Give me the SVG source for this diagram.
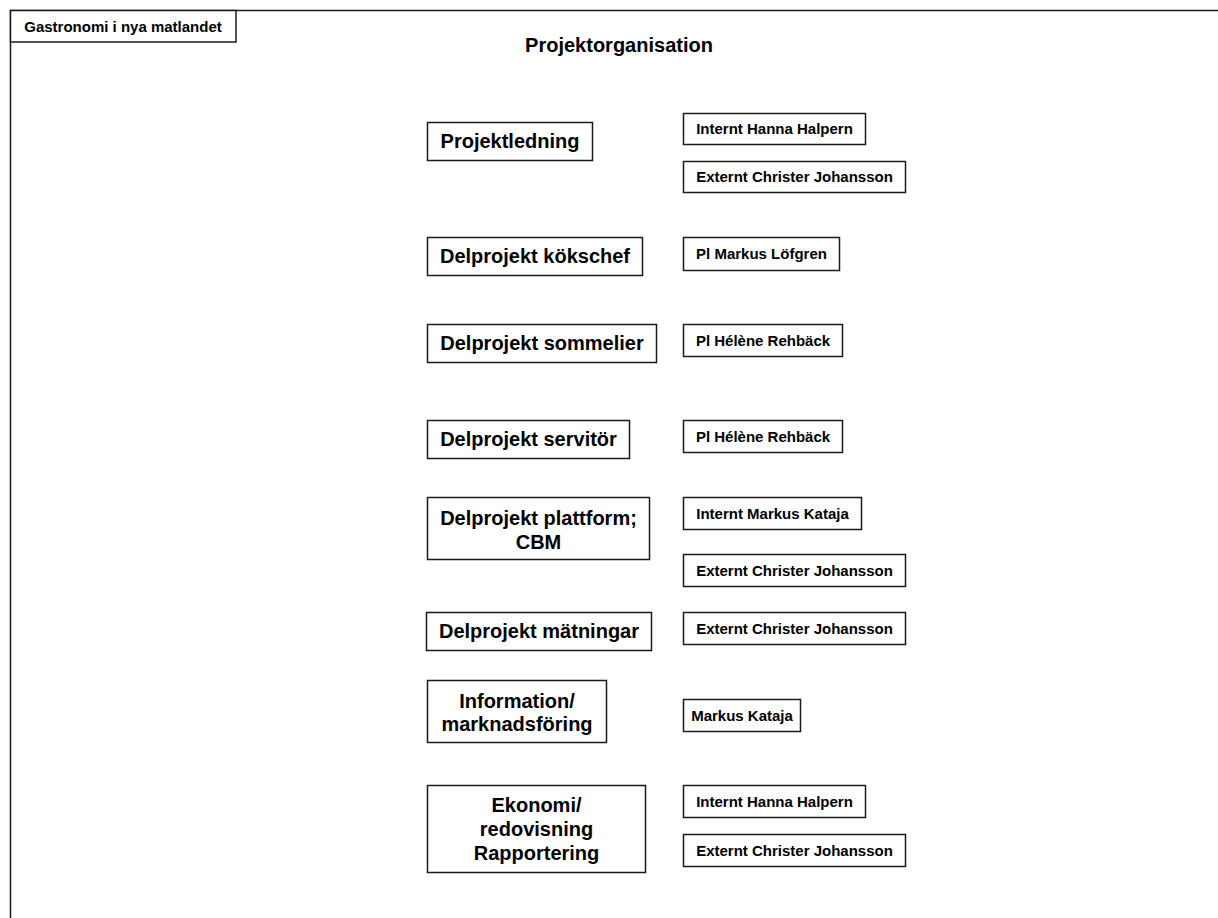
<svg xmlns="http://www.w3.org/2000/svg" width="1218" height="918" viewBox="0 0 1218 918">
<style>
.box{fill:#fff;stroke:#1a1a1a;stroke-width:1.5}
.frame{fill:none;stroke:#1a1a1a;stroke-width:1.5}
text{font-family:"Liberation Sans",Arial,sans-serif;font-weight:bold;fill:#000;text-anchor:middle}
.big{font-size:20px}
.small{font-size:15px}
.hdr{font-size:15px}
</style>
<rect width="1218" height="918" fill="#fff"/>
<g id="frame">
<path class="frame" d="M10.5,918 V10.5 H1218"/>
</g>
<g id="header">
<rect class="box" x="10.5" y="10.5" width="225.5" height="31.5"/>
<text class="hdr" x="123" y="31.5">Gastronomi i nya matlandet</text>
</g>
<g id="title">
<text class="big" x="619" y="52">Projektorganisation</text>
</g>
<g id="connectors"></g>
<g id="projektledning">
<rect class="box" x="427.5" y="122.5" width="165" height="38"/>
<text class="big" x="510" y="148.2">Projektledning</text>
</g>
<g id="pl-internt">
<rect class="box" x="683.5" y="113.5" width="182" height="31"/>
<text class="small" x="774.5" y="134.4">Internt Hanna Halpern</text>
</g>
<g id="pl-externt">
<rect class="box" x="683.5" y="161.5" width="222" height="31"/>
<text class="small" x="794.5" y="182.4">Externt Christer Johansson</text>
</g>
<g id="kokschef">
<rect class="box" x="427.5" y="237.5" width="215" height="38"/>
<text class="big" x="535" y="263.2">Delprojekt kökschef</text>
</g>
<g id="kokschef-pl">
<rect class="box" x="683.5" y="237.5" width="156" height="33"/>
<text class="small" x="761.5" y="259.4">Pl Markus Löfgren</text>
</g>
<g id="sommelier">
<rect class="box" x="427.5" y="324.5" width="229" height="38"/>
<text class="big" x="542" y="350.2">Delprojekt sommelier</text>
</g>
<g id="sommelier-pl">
<rect class="box" x="683.5" y="324.5" width="159" height="32"/>
<text class="small" x="763" y="345.9">Pl Hélène Rehbäck</text>
</g>
<g id="servitor">
<rect class="box" x="427.5" y="420.5" width="202" height="38"/>
<text class="big" x="528.5" y="446.2">Delprojekt servitör</text>
</g>
<g id="servitor-pl">
<rect class="box" x="683.5" y="420.5" width="159" height="32"/>
<text class="small" x="763" y="441.9">Pl Hélène Rehbäck</text>
</g>
<g id="plattform">
<rect class="box" x="427.5" y="497.5" width="222" height="62"/>
<text class="big" x="538.5" y="524.5">Delprojekt plattform;</text>
<text class="big" x="538.5" y="548.5">CBM</text>
</g>
<g id="plattform-internt">
<rect class="box" x="683.5" y="497.5" width="178" height="32"/>
<text class="small" x="772.5" y="518.9">Internt Markus Kataja</text>
</g>
<g id="plattform-externt">
<rect class="box" x="683.5" y="554.5" width="222" height="32"/>
<text class="small" x="794.5" y="575.9">Externt Christer Johansson</text>
</g>
<g id="matningar">
<rect class="box" x="426.5" y="612.5" width="225" height="38"/>
<text class="big" x="539" y="638.2">Delprojekt mätningar</text>
</g>
<g id="matningar-externt">
<rect class="box" x="683.5" y="612.5" width="222" height="32"/>
<text class="small" x="794.5" y="633.9">Externt Christer Johansson</text>
</g>
<g id="information">
<rect class="box" x="427.5" y="680.5" width="179" height="62"/>
<text class="big" x="517" y="707.5">Information/</text>
<text class="big" x="517" y="731">marknadsföring</text>
</g>
<g id="information-person">
<rect class="box" x="683.5" y="699.5" width="117" height="32"/>
<text class="small" x="742" y="720.9">Markus Kataja</text>
</g>
<g id="ekonomi">
<rect class="box" x="427.5" y="785.5" width="218" height="87"/>
<text class="big" x="536.5" y="812">Ekonomi/</text>
<text class="big" x="536.5" y="836">redovisning</text>
<text class="big" x="536.5" y="860">Rapportering</text>
</g>
<g id="ekonomi-internt">
<rect class="box" x="683.5" y="785.5" width="182" height="32"/>
<text class="small" x="774.5" y="806.9">Internt Hanna Halpern</text>
</g>
<g id="ekonomi-externt">
<rect class="box" x="683.5" y="834.5" width="222" height="32"/>
<text class="small" x="794.5" y="855.9">Externt Christer Johansson</text>
</g>
</svg>
